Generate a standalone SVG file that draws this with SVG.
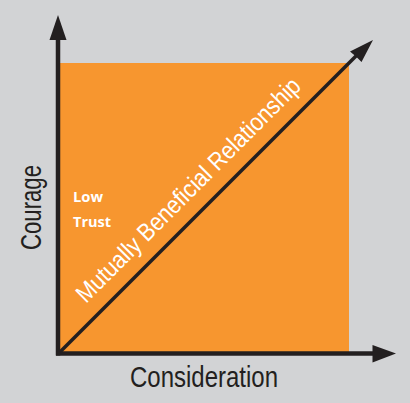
<svg xmlns="http://www.w3.org/2000/svg" width="410" height="403" viewBox="0 0 410 403">
<style>
.ax{stroke:#231f20;stroke-width:4.5;fill:none}
.head{fill:#231f20}
.lbl{font-family:"Liberation Sans",Arial,sans-serif;fill:#231f20}
.wt{font-family:"Open Sans","Liberation Sans",sans-serif;font-weight:bold;fill:#ffffff;font-size:14px}
</style>
<rect x="0" y="0" width="410" height="403" fill="#d2d3d5"/>
<g id="region">
<rect x="58" y="63" width="291" height="290" fill="#f7962f"/>
</g>
<g id="connectors">
<line class="ax" x1="58" y1="355.5" x2="58" y2="36"/>
<path class="head" d="M58,15 L49.5,40 L66.5,40 Z"/>
<line class="ax" x1="56" y1="353.5" x2="376" y2="353.5"/>
<path class="head" d="M396,353.5 L372.5,345 L372.5,362.5 Z"/>
<line x1="60" y1="352" x2="358" y2="54" stroke="#231f20" stroke-width="3.6"/>
<path class="head" d="M373,40 L350,51.5 L356,56.5 L361.5,62 Z"/>
</g>
<g id="courage">
<text class="lbl" transform="translate(41,250) rotate(-90)" font-size="29" textLength="85" lengthAdjust="spacingAndGlyphs">Courage</text>
</g>
<g id="consideration">
<text class="lbl" x="130" y="387" font-size="29" textLength="148" lengthAdjust="spacingAndGlyphs">Consideration</text>
</g>
<g id="low-trust">
<text class="wt" x="73" y="201.5" textLength="30" lengthAdjust="spacingAndGlyphs">Low</text>
<text class="wt" x="73" y="226.5" textLength="38" lengthAdjust="spacingAndGlyphs">Trust</text>
</g>
<g id="relationship">
<text transform="translate(86,304) rotate(-45)" font-family="Liberation Sans,Arial,sans-serif" font-size="25" fill="#ffffff" textLength="306" lengthAdjust="spacingAndGlyphs">Mutually Beneficial Relationship</text>
</g>
</svg>
